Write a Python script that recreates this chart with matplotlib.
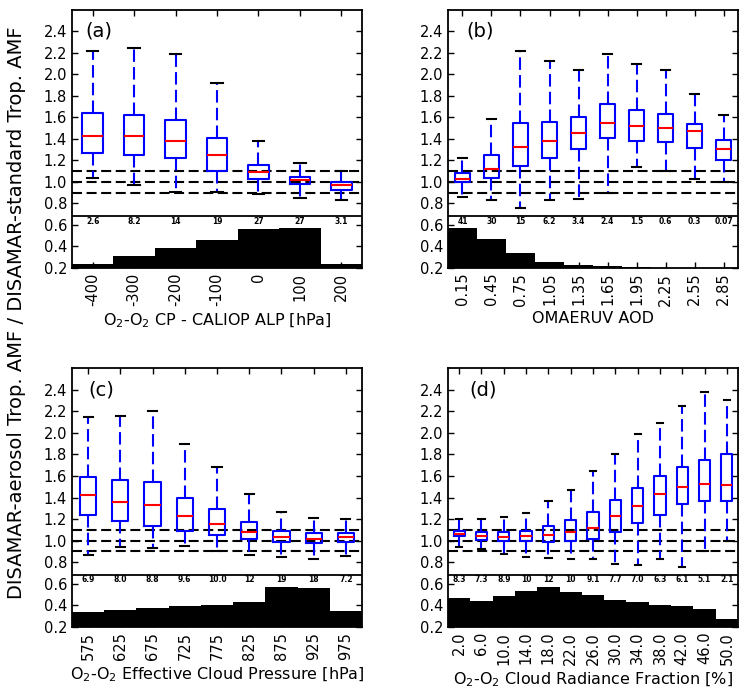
import matplotlib
matplotlib.use("Agg")
import matplotlib.pyplot as plt

plt.rcParams['font.family'] = ['DejaVu Sans']
plt.rcParams['mathtext.default'] = 'regular'

# ---- panel (a): O2-O2 CP - CALIOP ALP ----
a_ticks = ['-400', '-300', '-200', '-100', '0', '100', '200']
a_low = [1.04, 0.97, 0.91, 0.91, 0.89, 0.85, 0.83]
a_q1 = [1.27, 1.25, 1.22, 1.10, 1.03, 0.98, 0.93]
a_med = [1.43, 1.43, 1.38, 1.25, 1.09, 1.02, 0.97]
a_q3 = [1.64, 1.62, 1.58, 1.41, 1.16, 1.05, 1.00]
a_high = [2.22, 2.25, 2.19, 1.92, 1.38, 1.18, 1.10]
a_hist = [0.235, 0.313, 0.389, 0.458, 0.565, 0.572, 0.241]
a_pct = ['2.6', '8.2', '14', '19', '27', '27', '3.1']

# ---- panel (b): OMAERUV AOD ----
b_ticks = ['0.15', '0.45', '0.75', '1.05', '1.35', '1.65', '1.95', '2.25', '2.55', '2.85']
b_low = [0.86, 0.83, 0.76, 0.83, 0.84, 0.90, 1.14, 1.10, 1.03, 1.00]
b_q1 = [1.00, 1.04, 1.15, 1.22, 1.31, 1.41, 1.38, 1.37, 1.32, 1.20]
b_med = [1.03, 1.12, 1.33, 1.38, 1.46, 1.55, 1.52, 1.50, 1.47, 1.31]
b_q3 = [1.08, 1.25, 1.55, 1.56, 1.60, 1.73, 1.67, 1.63, 1.54, 1.39]
b_high = [1.22, 1.59, 2.22, 2.13, 2.04, 2.19, 2.10, 2.04, 1.82, 1.62]
b_hist = [0.569, 0.471, 0.335, 0.254, 0.228, 0.219, 0.210, 0.204, 0.202, 0.201]
b_pct = ['41', '30', '15', '6.2', '3.4', '2.4', '1.5', '0.6', '0.3', '0.07']

# ---- panel (c): O2-O2 effective cloud pressure ----
c_ticks = ['575', '625', '675', '725', '775', '825', '875', '925', '975']
c_low = [0.87, 0.94, 0.93, 0.95, 0.90, 0.87, 0.85, 0.83, 0.86]
c_q1 = [1.24, 1.18, 1.14, 1.09, 1.05, 1.02, 0.99, 0.98, 0.99]
c_med = [1.42, 1.36, 1.33, 1.23, 1.15, 1.08, 1.03, 1.02, 1.03]
c_q3 = [1.59, 1.56, 1.54, 1.40, 1.29, 1.17, 1.09, 1.07, 1.07]
c_high = [2.15, 2.16, 2.20, 1.90, 1.68, 1.43, 1.27, 1.21, 1.20]
c_hist = [0.338, 0.360, 0.375, 0.391, 0.400, 0.434, 0.575, 0.557, 0.348]
c_pct = ['6.9', '8.0', '8.8', '9.6', '10.0', '12', '19', '18', '7.2']

# ---- panel (d): O2-O2 cloud radiance fraction ----
d_ticks = ['2.0', '6.0', '10.0', '14.0', '18.0', '22.0', '26.0', '30.0', '34.0',
           '38.0', '42.0', '46.0', '50.0']
d_low = [0.94, 0.92, 0.88, 0.85, 0.84, 0.83, 0.83, 0.78, 0.77, 0.83, 0.76, 0.90, 1.00]
d_q1 = [1.04, 1.01, 1.00, 1.00, 0.99, 1.00, 1.02, 1.08, 1.16, 1.24, 1.34, 1.37, 1.37]
d_med = [1.06, 1.04, 1.03, 1.04, 1.05, 1.08, 1.12, 1.23, 1.32, 1.43, 1.50, 1.53, 1.52]
d_q3 = [1.09, 1.08, 1.08, 1.09, 1.14, 1.19, 1.27, 1.38, 1.49, 1.60, 1.68, 1.75, 1.80]
d_high = [1.20, 1.20, 1.22, 1.26, 1.37, 1.47, 1.65, 1.80, 1.99, 2.09, 2.25, 2.38, 2.30]
d_hist = [0.471, 0.437, 0.486, 0.535, 0.569, 0.523, 0.492, 0.452, 0.431, 0.406,
          0.397, 0.369, 0.271]
d_pct = ['8.3', '7.3', '8.9', '10', '12', '10', '9.1', '7.7', '7.0', '6.3', '6.1',
         '5.1', '2.1']

a_xlabel = 'O$_2$-O$_2$ CP - CALIOP ALP [hPa]'
b_xlabel = 'OMAERUV AOD'
c_xlabel = 'O$_2$-O$_2$ Effective Cloud Pressure [hPa]'
d_xlabel = 'O$_2$-O$_2$ Cloud Radiance Fraction [%]'

ylabel = 'DISAMAR-aerosol Trop. AMF / DISAMAR-standard Trop. AMF'
ref_levels = [0.9, 1.0, 1.1]
split_level = 0.68


def draw_panel(ax, letter, ticks, low, q1, med, q3, high, hist, pct, xlabel, lx):
    n = len(ticks)
    pos = list(range(1, n + 1))

    # relative frequency histogram at the bottom of the panel
    ax.bar(pos, hist, width=1.0, color='black', edgecolor='none', zorder=1)
    ax.axhline(split_level, color='black', lw=1.3, zorder=3)

    for lev in ref_levels:
        ax.axhline(lev, color='black', lw=1.5, ls=(0, (4.8, 2.2)), zorder=2)

    stats = []
    for i in range(n):
        stats.append({'whislo': low[i], 'q1': q1[i], 'med': med[i],
                      'q3': q3[i], 'whishi': high[i]})
    ax.bxp(stats, positions=pos, widths=0.5, capwidths=0.28, showfliers=False,
           boxprops=dict(color='#0000ff', lw=1.5),
           whiskerprops=dict(color='#0000ff', lw=1.5, ls=(0, (6, 2.5))),
           capprops=dict(color='black', lw=1.5),
           medianprops=dict(color='red', lw=1.5),
           manage_ticks=False)

    for p, t in zip(pos, pct):
        ax.text(p, 0.636, t, ha='center', va='center', fontsize=5.5,
                fontweight='bold')

    ax.text(lx, 2.4, '(' + letter + ')', ha='left', va='center', fontsize=14,
            transform=ax.get_yaxis_transform())

    ax.set_xlim(0.5, n + 0.5)
    ax.set_ylim(0.2, 2.6)
    ax.set_yticks([0.2, 0.4, 0.6, 0.8, 1.0, 1.2, 1.4, 1.6, 1.8, 2.0, 2.2, 2.4])
    ax.set_xticks(pos)
    ax.set_xticklabels(ticks, rotation=90)
    ax.tick_params(direction='in', length=4, width=1, top=True, right=True,
                   labelsize=10.5)
    ax.set_xlabel(xlabel, fontsize=11.5)
    for s in ax.spines.values():
        s.set_linewidth(1.3)


fig = plt.figure(figsize=(7.39, 6.88), dpi=100)
ax_a = fig.add_axes([0.0974, 0.6105, 0.3925, 0.375])
ax_b = fig.add_axes([0.6062, 0.6105, 0.3925, 0.375])
ax_c = fig.add_axes([0.0974, 0.0887, 0.3925, 0.3763])
ax_d = fig.add_axes([0.6062, 0.0887, 0.3925, 0.3763])

draw_panel(ax_a, 'a', a_ticks, a_low, a_q1, a_med, a_q3, a_high, a_hist, a_pct, a_xlabel, 0.045)
draw_panel(ax_b, 'b', b_ticks, b_low, b_q1, b_med, b_q3, b_high, b_hist, b_pct, b_xlabel, 0.065)
draw_panel(ax_c, 'c', c_ticks, c_low, c_q1, c_med, c_q3, c_high, c_hist, c_pct, c_xlabel, 0.055)
draw_panel(ax_d, 'd', d_ticks, d_low, d_q1, d_med, d_q3, d_high, d_hist, d_pct, d_xlabel, 0.075)

fig.text(0.022, 0.546, ylabel, rotation=90, ha='center', va='center', fontsize=14)

fig.savefig('out.png', dpi=100)
